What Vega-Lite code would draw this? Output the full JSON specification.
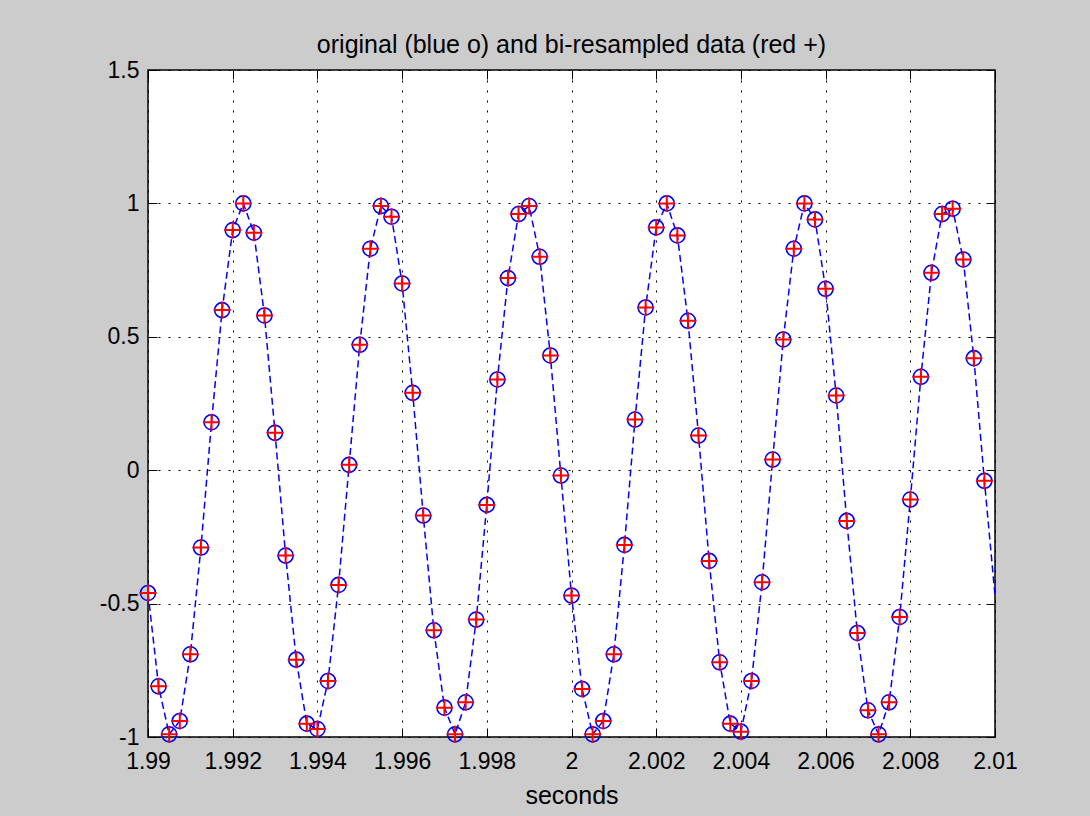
{
  "$schema": "https://vega.github.io/schema/vega-lite/v6.json",
  "width": 847,
  "height": 667,
  "autosize": {"type": "none"},
  "padding": {"left": 148, "top": 70, "right": 95, "bottom": 79},
  "background": "#cccccc",
  "config": {
    "view": {"fill": "white", "stroke": "black", "strokeWidth": 1.5},
    "font": "Liberation Sans",
    "axis": {
      "domain": false,
      "ticks": true,
      "tickSize": -9,
      "tickColor": "black",
      "tickWidth": 1,
      "labelFont": "Liberation Sans",
      "labelFontSize": 23,
      "labelColor": "black",
      "labelFlush": false,
      "labelOverlap": false,
      "gridColor": "black",
      "gridDash": [2, 8],
      "gridWidth": 1,
      "gridOpacity": 1,
      "titleFont": "Liberation Sans",
      "titleFontSize": 25,
      "titleFontWeight": "normal",
      "titleColor": "black"
    }
  },
  "title": {
    "text": "original (blue o) and bi-resampled data (red +)",
    "font": "Liberation Sans",
    "fontSize": 25,
    "fontWeight": "normal",
    "color": "black",
    "anchor": "middle",
    "offset": 1
  },
  "data": {
    "values": [
      {"t": 1.99, "y": -0.46}, {"t": 1.99025, "y": -0.81}, {"t": 1.9905, "y": -0.99}, {"t": 1.99075, "y": -0.94},
      {"t": 1.991, "y": -0.69}, {"t": 1.99125, "y": -0.29}, {"t": 1.9915, "y": 0.18}, {"t": 1.99175, "y": 0.60},
      {"t": 1.992, "y": 0.90}, {"t": 1.99225, "y": 1.00}, {"t": 1.9925, "y": 0.89}, {"t": 1.99275, "y": 0.58},
      {"t": 1.993, "y": 0.14}, {"t": 1.99325, "y": -0.32}, {"t": 1.9935, "y": -0.71}, {"t": 1.99375, "y": -0.95},
      {"t": 1.994, "y": -0.97}, {"t": 1.99425, "y": -0.79}, {"t": 1.9945, "y": -0.43}, {"t": 1.99475, "y": 0.02},
      {"t": 1.995, "y": 0.47}, {"t": 1.99525, "y": 0.83}, {"t": 1.9955, "y": 0.99}, {"t": 1.99575, "y": 0.95},
      {"t": 1.996, "y": 0.70}, {"t": 1.99625, "y": 0.29}, {"t": 1.9965, "y": -0.17}, {"t": 1.99675, "y": -0.60},
      {"t": 1.997, "y": -0.89}, {"t": 1.99725, "y": -0.99}, {"t": 1.9975, "y": -0.87}, {"t": 1.99775, "y": -0.56},
      {"t": 1.998, "y": -0.13}, {"t": 1.99825, "y": 0.34}, {"t": 1.9985, "y": 0.72}, {"t": 1.99875, "y": 0.96},
      {"t": 1.999, "y": 0.99}, {"t": 1.99925, "y": 0.80}, {"t": 1.9995, "y": 0.43}, {"t": 1.99975, "y": -0.02},
      {"t": 2.0, "y": -0.47}, {"t": 2.00025, "y": -0.82}, {"t": 2.0005, "y": -0.99}, {"t": 2.00075, "y": -0.94},
      {"t": 2.001, "y": -0.69}, {"t": 2.00125, "y": -0.28}, {"t": 2.0015, "y": 0.19}, {"t": 2.00175, "y": 0.61},
      {"t": 2.002, "y": 0.91}, {"t": 2.00225, "y": 1.00}, {"t": 2.0025, "y": 0.88}, {"t": 2.00275, "y": 0.56},
      {"t": 2.003, "y": 0.13}, {"t": 2.00325, "y": -0.34}, {"t": 2.0035, "y": -0.72}, {"t": 2.00375, "y": -0.95},
      {"t": 2.004, "y": -0.98}, {"t": 2.00425, "y": -0.79}, {"t": 2.0045, "y": -0.42}, {"t": 2.00475, "y": 0.04},
      {"t": 2.005, "y": 0.49}, {"t": 2.00525, "y": 0.83}, {"t": 2.0055, "y": 1.00}, {"t": 2.00575, "y": 0.94},
      {"t": 2.006, "y": 0.68}, {"t": 2.00625, "y": 0.28}, {"t": 2.0065, "y": -0.19}, {"t": 2.00675, "y": -0.61},
      {"t": 2.007, "y": -0.90}, {"t": 2.00725, "y": -0.99}, {"t": 2.0075, "y": -0.87}, {"t": 2.00775, "y": -0.55},
      {"t": 2.008, "y": -0.11}, {"t": 2.00825, "y": 0.35}, {"t": 2.0085, "y": 0.74}, {"t": 2.00875, "y": 0.96},
      {"t": 2.009, "y": 0.98}, {"t": 2.00925, "y": 0.79}, {"t": 2.0095, "y": 0.42}, {"t": 2.00975, "y": -0.04},
      {"t": 2.01, "y": -0.47}
    ]
  },
  "layer": [
    {
      "mark": {"type": "line", "color": "#0000ff", "strokeWidth": 1.5, "strokeDash": [7, 4], "clip": true},
      "encoding": {
        "x": {
          "field": "t", "type": "quantitative",
          "scale": {"domain": [1.99, 2.01], "nice": false, "zero": false},
          "axis": {
            "orient": "bottom", "title": "seconds", "grid": true,
            "values": [1.99, 1.992, 1.994, 1.996, 1.998, 2, 2.002, 2.004, 2.006, 2.008, 2.01],
            "labelExpr": "'' + datum.value",
            "labelPadding": 22, "titlePadding": 10
          }
        },
        "y": {
          "field": "y", "type": "quantitative",
          "scale": {"domain": [-1, 1.5], "nice": false, "zero": false},
          "axis": {
            "orient": "left", "title": null, "grid": true,
            "values": [-1, -0.5, 0, 0.5, 1, 1.5],
            "labelExpr": "'' + datum.value",
            "labelPadding": 18
          }
        }
      }
    },
    {
      "transform": [{"filter": "datum.t < 2.0099"}],
      "mark": {"type": "point", "shape": "circle", "filled": false, "color": "#0000ff", "size": 225, "strokeWidth": 1.6, "opacity": 1},
      "encoding": {
        "x": {
          "field": "t", "type": "quantitative",
          "axis": {
            "orient": "top", "title": null, "grid": false, "labels": false,
            "values": [1.99, 1.992, 1.994, 1.996, 1.998, 2, 2.002, 2.004, 2.006, 2.008, 2.01]
          }
        },
        "y": {
          "field": "y", "type": "quantitative",
          "axis": {
            "orient": "right", "title": null, "grid": false, "labels": false,
            "values": [-1, -0.5, 0, 0.5, 1, 1.5]
          }
        }
      }
    },
    {
      "transform": [{"filter": "datum.t < 2.0099"}],
      "mark": {"type": "point", "shape": "M-1,0H1M0,-1V1", "filled": false, "color": "#ff0000", "size": 289, "strokeWidth": 2, "opacity": 1},
      "encoding": {
        "x": {"field": "t", "type": "quantitative", "axis": null},
        "y": {"field": "y", "type": "quantitative", "axis": null}
      }
    }
  ],
  "resolve": {"axis": {"x": "independent", "y": "independent"}}
}
